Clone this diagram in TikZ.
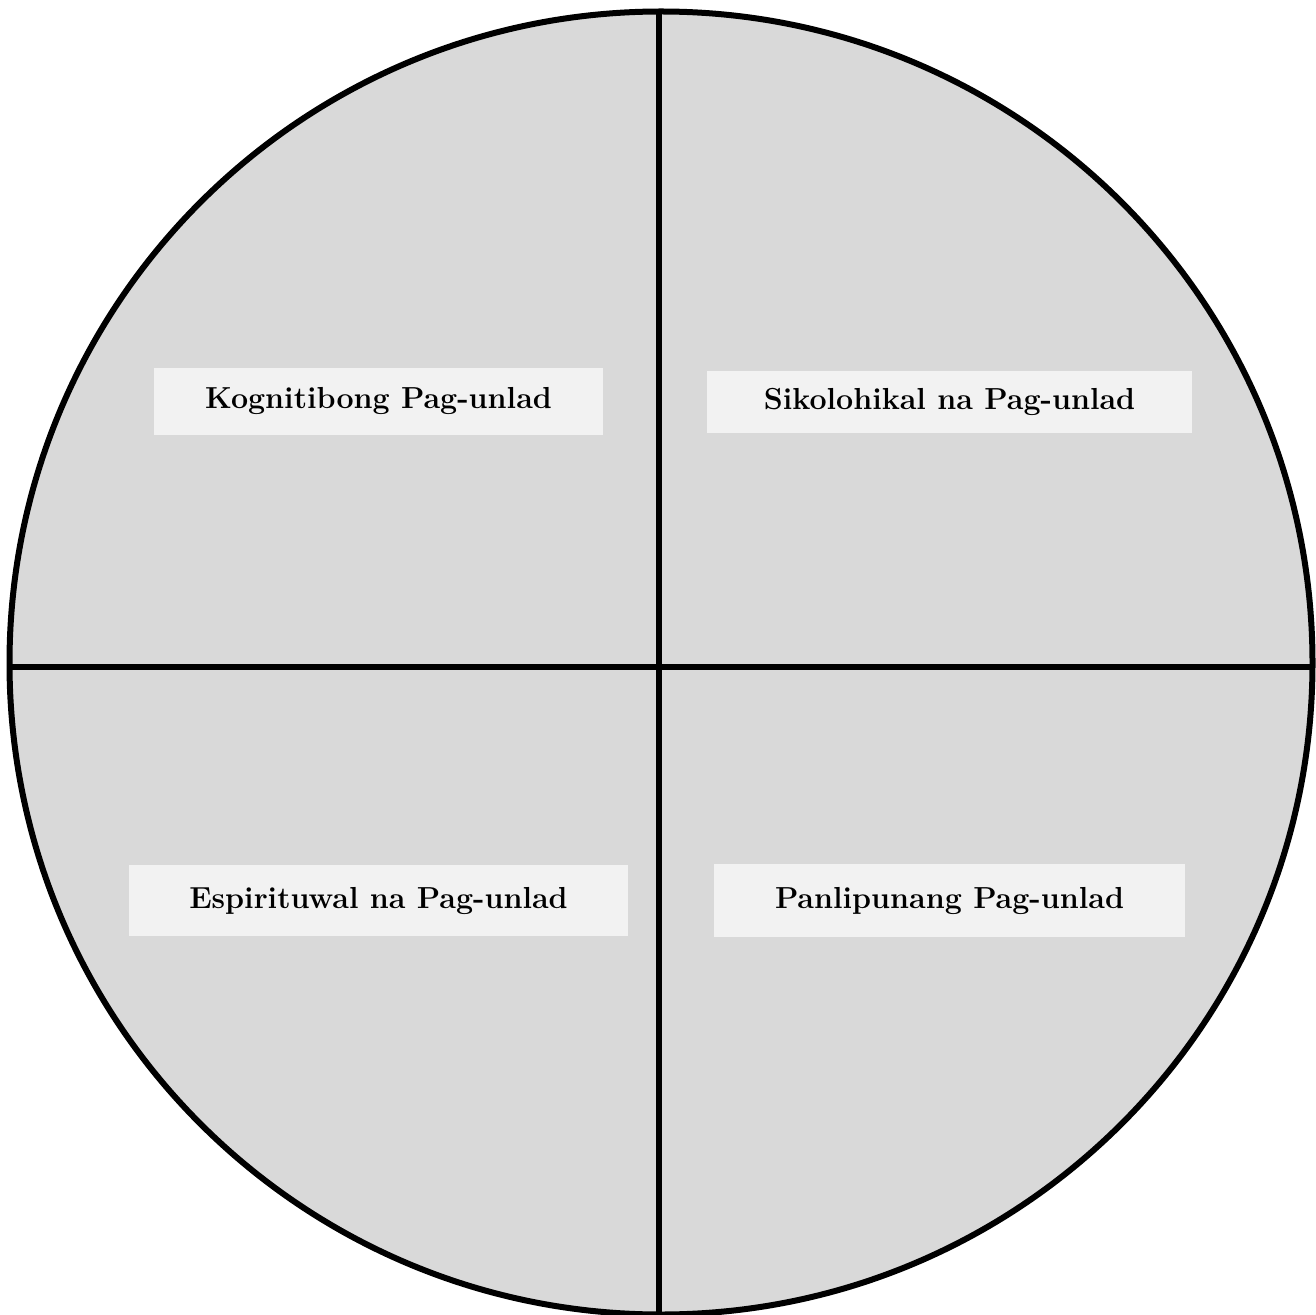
\documentclass[tikz,border=0pt]{standalone}
\usepackage{fontspec}
\begin{document}
\begin{tikzpicture}[x=0.5pt,y=-0.5pt]
\definecolor{wheelgray}{HTML}{D9D9D9}
\definecolor{boxgray}{HTML}{F2F2F2}
\tikzset{areabox/.style={fill=boxgray, inner sep=0pt, font=\fontsize{15.2}{18}\selectfont\bfseries}}
\useasboundingbox (0,0) rectangle (1316,1315);
% wheel and its quarters
\node[circle, draw, fill=wheelgray, line width=3pt, minimum size=651.5pt, inner sep=0pt] (wheel) at (661,663) {};
\coordinate (top) at (659,10);
\coordinate (bottom) at (659,1315);
\coordinate (left) at (11,667);
\coordinate (right) at (1312,667);
\draw[line width=3pt] (top) -- (bottom);
\draw[line width=3pt] (left) -- (right);
% labels
\node[areabox, minimum width=224.5pt, minimum height=33.5pt] (kog) at (378.5,401.5) {Kognitibong Pag-unlad};
\node[areabox, minimum width=242.5pt, minimum height=31pt] (sik) at (949.5,402) {Sikolohikal na Pag-unlad};
\node[areabox, minimum width=249.5pt, minimum height=35.5pt] (esp) at (378.5,900.5) {Espirituwal na Pag-unlad};
\node[areabox, minimum width=235.5pt, minimum height=36.5pt] (pan) at (949.5,900.5) {Panlipunang Pag-unlad};
\end{tikzpicture}
\end{document}
